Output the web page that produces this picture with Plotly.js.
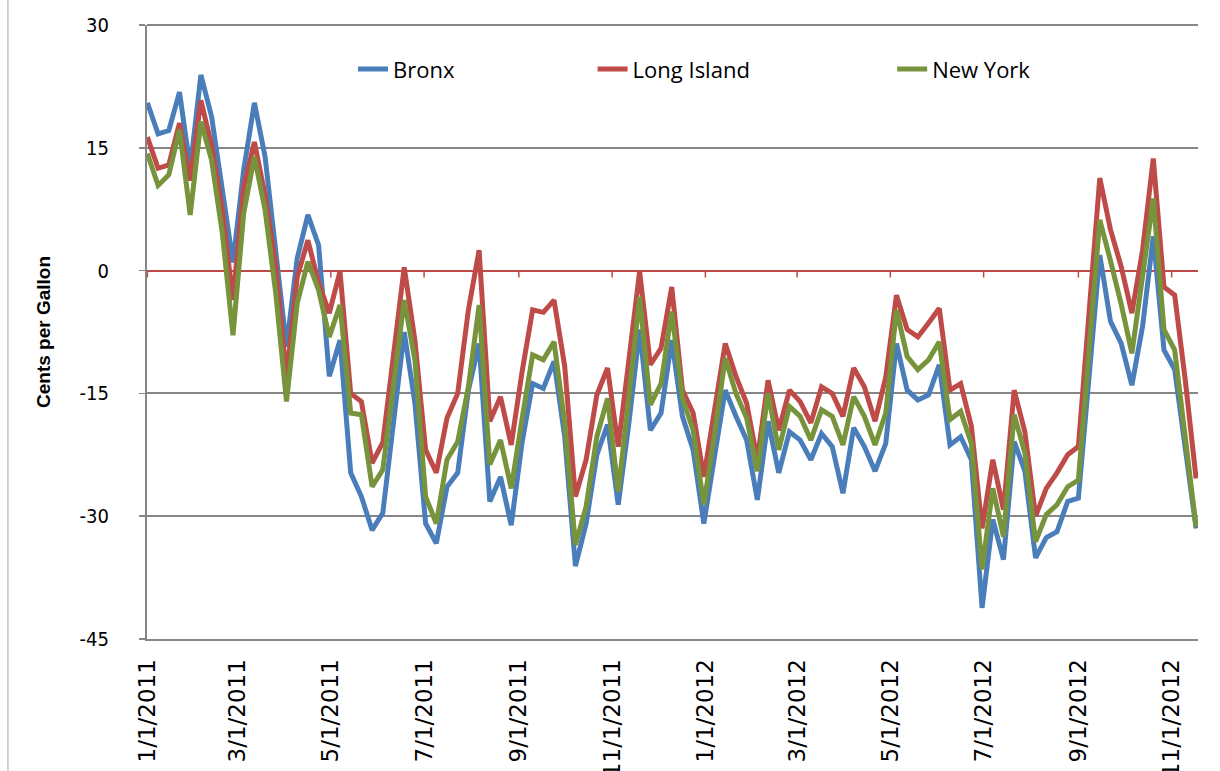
<!DOCTYPE html>
<html>
<head>
<meta charset="utf-8">
<script src="https://cdn.plot.ly/plotly-3.0.1.min.js"></script>
<style>html,body{margin:0;padding:0;background:#fff;overflow:hidden;}#chart{width:1220px;height:771px;}</style>
</head>
<body>
<div id="chart"></div>
<script>
// Weekly observation dates
const weeks = [
 '2011-01-01','2011-01-08','2011-01-15','2011-01-22','2011-01-29',
 '2011-02-05','2011-02-12','2011-02-19','2011-02-26',
 '2011-03-05','2011-03-12','2011-03-19','2011-03-26',
 '2011-04-02','2011-04-09','2011-04-16','2011-04-23','2011-04-30',
 '2011-05-07','2011-05-14','2011-05-21','2011-05-28',
 '2011-06-04','2011-06-11','2011-06-18','2011-06-25',
 '2011-07-02','2011-07-09','2011-07-16','2011-07-23','2011-07-30',
 '2011-08-06','2011-08-13','2011-08-20','2011-08-27',
 '2011-09-03','2011-09-10','2011-09-17','2011-09-24',
 '2011-10-01','2011-10-08','2011-10-15','2011-10-22','2011-10-29',
 '2011-11-05','2011-11-12','2011-11-19','2011-11-26',
 '2011-12-03','2011-12-10','2011-12-17','2011-12-24','2011-12-31',
 '2012-01-07','2012-01-14','2012-01-21','2012-01-28',
 '2012-02-04','2012-02-11','2012-02-18','2012-02-25',
 '2012-03-03','2012-03-10','2012-03-17','2012-03-24','2012-03-31',
 '2012-04-07','2012-04-14','2012-04-21','2012-04-28',
 '2012-05-05','2012-05-12','2012-05-19','2012-05-26',
 '2012-06-02','2012-06-09','2012-06-16','2012-06-23','2012-06-30',
 '2012-07-07','2012-07-14','2012-07-21','2012-07-28',
 '2012-08-04','2012-08-11','2012-08-18','2012-08-25',
 '2012-09-01','2012-09-08','2012-09-15','2012-09-22','2012-09-29',
 '2012-10-06','2012-10-13','2012-10-20','2012-10-27',
 '2012-11-03','2012-11-10','2012-11-17'
];

const bronx = [
 20.5,16.7,17.1,21.8,12.5,23.9,18.8,10.0,1.0,12.3,
 20.5,13.9,2.9,-9.3,1.5,6.8,3.1,-12.9,-8.5,-24.7,
 -27.6,-31.7,-29.6,-18.0,-7.5,-16.2,-30.9,-33.3,-26.4,-24.7,
 -14.6,-8.9,-28.2,-25.2,-31.1,-21.1,-13.8,-14.4,-11.1,-20.3,
 -36.1,-30.9,-22.5,-18.8,-28.6,-18.6,-7.2,-19.5,-17.4,-8.5,
 -17.8,-21.9,-30.9,-22.7,-14.6,-17.8,-20.7,-28.0,-18.4,-24.7,
 -19.7,-20.7,-23.1,-19.9,-21.5,-27.2,-19.2,-21.5,-24.5,-21.1,
 -8.9,-14.6,-15.8,-15.2,-11.5,-21.3,-20.3,-23.1,-41.2,-30.4,
 -35.3,-20.9,-24.5,-35.1,-32.6,-31.9,-28.2,-27.8,-13.0,1.9,
 -6.2,-8.9,-14.0,-6.8,4.2,-9.7,-12.1,-21.9,-31.5
];

const longIsland = [
 16.3,12.5,12.9,18.0,11.0,20.8,15.3,7.4,-3.6,10.2,
 15.7,9.2,0.5,-13.0,-0.8,3.7,-1.5,-5.2,-0.1,-15.0,
 -16.0,-23.5,-21.0,-10.5,0.4,-8.5,-21.9,-24.7,-18.0,-15.0,
 -4.8,2.5,-18.4,-15.4,-21.3,-12.5,-4.8,-5.1,-3.6,-11.7,
 -27.6,-23.1,-15.2,-11.9,-21.5,-10.9,-0.1,-11.5,-9.5,-2.0,
 -14.6,-17.4,-25.2,-17.0,-8.9,-12.9,-16.2,-23.1,-13.4,-19.5,
 -14.6,-16.0,-18.6,-14.2,-15.0,-17.8,-11.9,-14.2,-18.4,-13.0,
 -3.0,-7.2,-8.1,-6.4,-4.6,-14.6,-13.8,-19.0,-31.5,-23.1,
 -29.2,-14.6,-19.7,-30.0,-26.6,-24.7,-22.5,-21.5,-5.0,11.3,
 5.0,0.5,-5.2,2.5,13.7,-2.0,-3.0,-13.5,-25.4
];

const newYork = [
 14.3,10.4,11.7,17.2,6.8,18.2,13.5,4.6,-7.9,7.0,
 13.9,7.4,-2.8,-16.0,-4.0,1.1,-2.4,-8.1,-4.2,-17.4,
 -17.6,-26.4,-24.3,-14.2,-3.6,-10.9,-27.6,-30.9,-23.1,-20.9,
 -14.2,-4.2,-23.7,-20.7,-26.6,-18.2,-10.3,-10.9,-8.7,-18.6,
 -33.5,-28.8,-20.3,-15.6,-27.0,-15.4,-3.2,-16.4,-13.8,-5.0,
 -15.6,-19.5,-28.6,-19.9,-10.7,-15.0,-18.0,-24.5,-15.0,-21.9,
 -16.6,-17.8,-20.7,-17.0,-17.8,-21.3,-15.4,-17.8,-21.3,-17.4,
 -4.8,-10.5,-12.1,-10.9,-8.7,-18.2,-17.2,-21.1,-36.5,-26.6,
 -32.5,-17.6,-22.3,-33.1,-29.8,-28.6,-26.4,-25.6,-9.5,6.2,
 1.2,-4.1,-10.1,-0.3,8.8,-7.2,-9.7,-20.5,-31.3
];

const seriesNames = ['Bronx','Long Island','New York'];
const seriesColors = ['#4A7EBB','#BE4B48','#77933C'];
const yTickVals = [-45,-30,-15,0,15,30];
// Major date ticks (every two months) on the horizontal axis that crosses at 0
const xTickDates = ['2011-01-01','2011-03-01','2011-05-01','2011-07-01','2011-09-01','2011-11-01',
                    '2012-01-01','2012-03-01','2012-05-01','2012-07-01','2012-09-01','2012-11-01'];

const seriesData = [bronx, longIsland, newYork];
const legendIds = ['legend','legend2','legend3'];
const traces = [{
  type: 'scatter', mode: 'markers', x: xTickDates, y: xTickDates.map(() => 0),
  marker: {size: 1, opacity: 0}, showlegend: false, hoverinfo: 'skip',
  error_y: {type: 'data', symmetric: false, array: xTickDates.map(() => 0),
            arrayminus: xTickDates.map(() => 0.85), width: 0, thickness: 1.5, color: '#BE4B48'}
}].concat(seriesData.map((vals, k) => ({
  type: 'scatter', mode: 'lines', x: weeks, y: vals, name: seriesNames[k],
  line: {color: seriesColors[k], width: 5}, legend: legendIds[k],
  hoverinfo: 'x+y+name'
})));

const xRange = ['2010-12-31 18:00', '2012-11-18 06:00'];
const legendFont = {family: 'Open Sans, sans-serif', size: 22, color: '#000'};
const legendBase = {orientation: 'h', yanchor: 'middle', xanchor: 'left', y: 0.928,
  bgcolor: 'rgba(0,0,0,0)', font: legendFont, borderwidth: 0};

const layout = {
  width: 1220, height: 771,
  margin: {l: 147, r: 22, t: 25, b: 132},
  paper_bgcolor: '#fff', plot_bgcolor: '#fff',
  showlegend: true,
  legend: Object.assign({}, legendBase, {x: 0.196}),
  legend2: Object.assign({}, legendBase, {x: 0.424}),
  legend3: Object.assign({}, legendBase, {x: 0.709}),
  xaxis: {
    type: 'date', range: xRange, tickformat: '%-m/%-d/%Y', dtick: 'M2', tick0: '2011-01-01',
    tickangle: -90, showgrid: false, zeroline: false,
    showline: true, linecolor: '#868686', linewidth: 2, ticks: '',
    ticklabelstandoff: 9,
    tickfont: {family: 'DejaVu Sans, sans-serif', size: 23, color: '#000'}
  },
  yaxis: {
    range: [-45, 30], tickvals: yTickVals, ticktext: yTickVals.map(String),
    showgrid: true, gridcolor: '#868686', gridwidth: 2,
    zeroline: true, zerolinecolor: '#BE4B48', zerolinewidth: 2,
    showline: true, linecolor: '#868686', linewidth: 2,
    ticks: 'outside', ticklen: 6, tickcolor: '#868686', tickwidth: 1.5,
    ticklabelstandoff: 26,
    tickfont: {family: 'Liberation Sans Narrow, DejaVu Sans Condensed, sans-serif', size: 20, color: '#000'},
    title: {text: 'Cents per Gallon', standoff: 24,
      font: {family: 'Liberation Sans, Arial, sans-serif', size: 19, color: '#000', weight: 'bold'}}
  },
  shapes: [
    {type: 'line', xref: 'paper', yref: 'paper', x0: 0, x1: 1, y0: 1, y1: 1, layer: 'below',
     line: {color: '#868686', width: 2}},
    {type: 'line', xref: 'paper', yref: 'paper', x0: -0.1323, x1: -0.1323, y0: -0.22, y1: 1.05,
     line: {color: '#A6A6A6', width: 1}}
  ]
};

Plotly.newPlot('chart', traces, layout, {displayModeBar: false, staticPlot: true});
</script>
</body>
</html>
